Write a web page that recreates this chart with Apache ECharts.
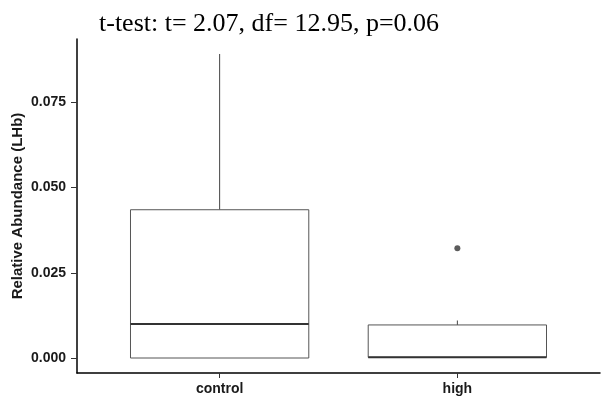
<!DOCTYPE html>
<html>
<head>
<meta charset="utf-8">
<script src="https://cdn.jsdelivr.net/npm/echarts@6/dist/echarts.min.js"></script>
<style>html,body{margin:0;padding:0;background:#fff}#c{width:605px;height:413px}</style>
</head>
<body>
<div id="c"></div>
<script>
const titleText = 't-test: t= 2.07, df= 12.95, p=0.06';
const categories = ['control', 'high'];
// [min, Q1, median, Q3, max]
const boxStats = [
  [0.0, 0.0, 0.0100, 0.0435, 0.0892],
  [0.0, 0.0002, 0.0002, 0.0097, 0.0110]
];
const outliers = [[2, 0.0322]];
const yTicks = [0, 0.025, 0.05, 0.075];

const boxData = boxStats.map((s, i) => [i + 1].concat(s));
const HALF = 0.375;

const chart = echarts.init(document.getElementById('c'), null, {renderer: 'canvas'});
chart.setOption({
  animation: false,
  backgroundColor: '#fff',
  title: {
    text: titleText, left: 94, top: 6,
    textStyle: {fontFamily: 'Liberation Serif', fontSize: 26, fontWeight: 'normal', color: '#000'}
  },
  grid: {left: 77, right: 5, top: 39, bottom: 40, containLabel: false, outerBoundsMode: 'none'},
  xAxis: {
    type: 'value', min: 0.4, max: 2.6,
    axisLine: {show: true, onZero: false, lineStyle: {color: '#000', width: 1.5}},
    axisTick: {show: true, customValues: [1, 2], length: 5, lineStyle: {color: '#333', width: 1}},
    axisLabel: {
      customValues: [1, 2], margin: 9,
      formatter: v => categories[Math.round(v) - 1] || '',
      fontFamily: 'Liberation Sans', fontWeight: 'bold', fontSize: 14, color: '#1a1a1a'
    },
    splitLine: {show: false}
  },
  yAxis: {
    type: 'value', min: -0.0044, max: 0.0936,
    name: 'Relative Abundance (LHb)', nameLocation: 'middle', nameGap: 52, nameRotate: 90,
    nameMoveOverlap: false,
    nameTextStyle: {fontFamily: 'Liberation Sans', fontWeight: 'bold', fontSize: 15, color: '#1a1a1a'},
    axisLine: {show: true, onZero: false, lineStyle: {color: '#000', width: 1.5}},
    axisTick: {show: true, customValues: yTicks, length: 6, lineStyle: {color: '#333', width: 1}},
    axisLabel: {
      customValues: yTicks, margin: 11,
      formatter: v => v.toFixed(3),
      fontFamily: 'Liberation Sans', fontWeight: 'bold', fontSize: 14, color: '#1a1a1a'
    },
    splitLine: {show: false}
  },
  series: [
    {
      type: 'custom',
      data: boxData,
      renderItem: function (params, api) {
        const x = api.value(0);
        const mn = api.value(1), q1 = api.value(2), md = api.value(3), q3 = api.value(4), mx = api.value(5);
        const tl = api.coord([x - HALF, q3]);
        const br = api.coord([x + HALF, q1]);
        const c = api.coord([x, 0]);
        const pMax = api.coord([x, mx]);
        const pMin = api.coord([x, mn]);
        const mL = api.coord([x - HALF, md]);
        const mR = api.coord([x + HALF, md]);
        return {
          type: 'group',
          children: [
            {type: 'line', shape: {x1: c[0], y1: pMax[1], x2: c[0], y2: tl[1]}, style: {stroke: '#444', lineWidth: 1}},
            {type: 'line', shape: {x1: c[0], y1: br[1], x2: c[0], y2: pMin[1]}, style: {stroke: '#444', lineWidth: 1}},
            {type: 'rect', shape: {x: tl[0], y: tl[1], width: br[0] - tl[0], height: br[1] - tl[1]}, style: {fill: '#fff', stroke: '#555', lineWidth: 1}},
            {type: 'line', shape: {x1: mL[0], y1: mL[1], x2: mR[0], y2: mR[1]}, style: {stroke: '#333', lineWidth: 2}}
          ]
        };
      }
    },
    {
      type: 'scatter',
      data: outliers,
      symbol: 'circle', symbolSize: 6,
      itemStyle: {color: '#333'}
    }
  ]
});
</script>
</body>
</html>
